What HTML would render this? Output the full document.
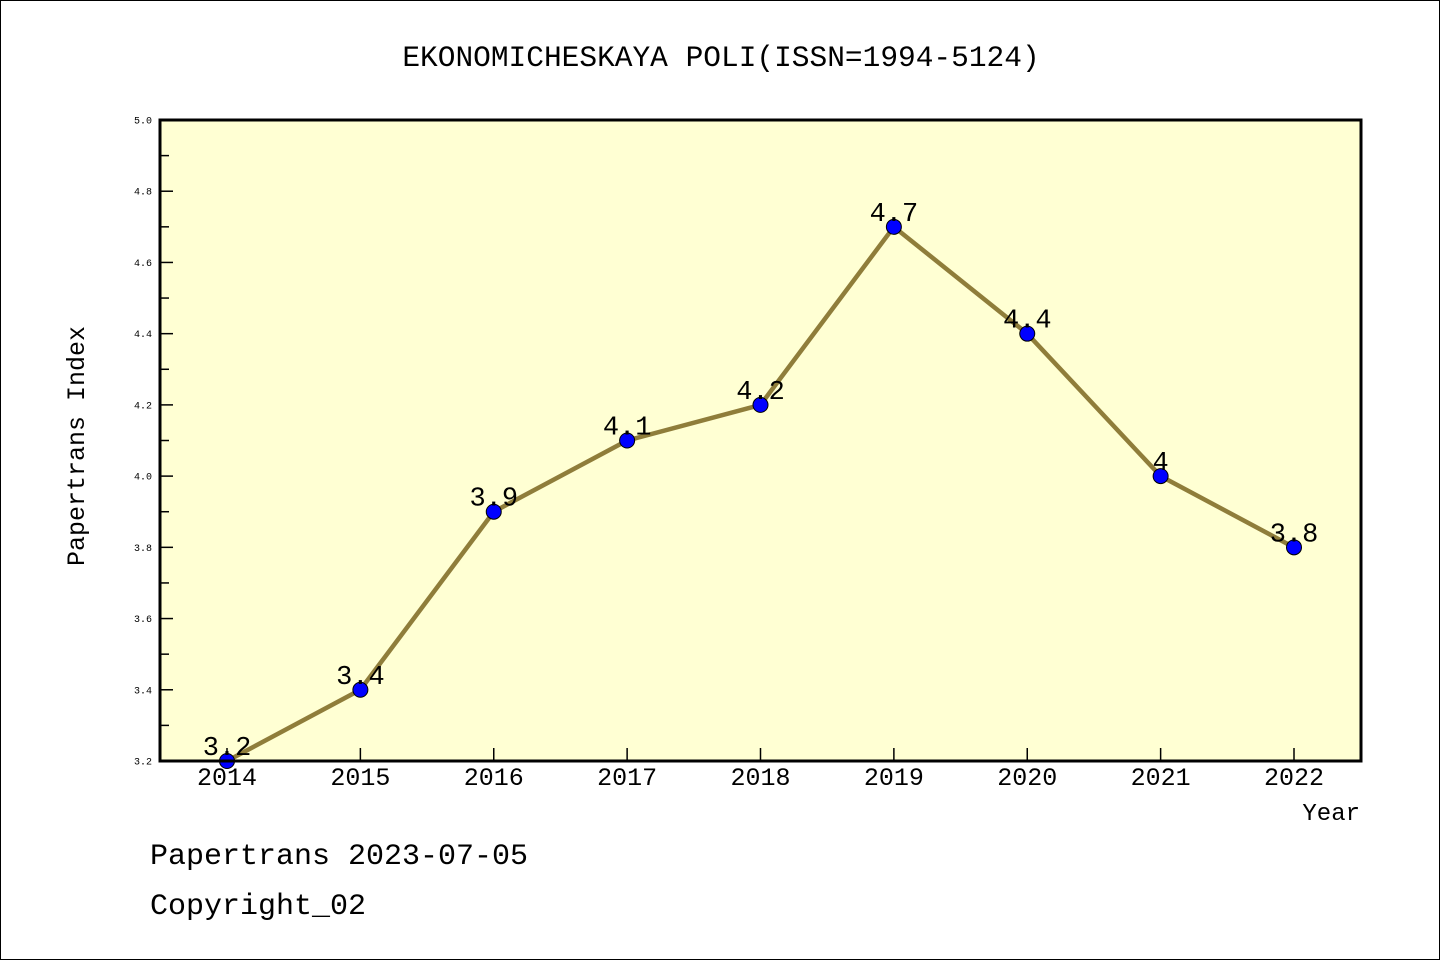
<!DOCTYPE html>
<html><head><meta charset="utf-8"><style>
html,body{margin:0;padding:0;background:#fff;}
svg{display:block;font-family:"Liberation Mono","DejaVu Sans Mono",monospace;}
</style></head><body>
<svg id="chart" width="1440" height="960" viewBox="0 0 1440 960" xmlns="http://www.w3.org/2000/svg">
<rect x="0.5" y="0.5" width="1439" height="959" fill="#fff" stroke="#000" stroke-width="1"/>
<text x="721" y="66" font-size="29.5" text-anchor="middle">EKONOMICHESKAYA POLI(ISSN=1994-5124)</text>
<rect x="160" y="120" width="1201" height="641" fill="#ffffd3"/>
<g id="ticks"></g>
<g id="marks"></g>
<rect x="160" y="120" width="1201" height="641" fill="none" stroke="#000" stroke-width="3"/>
<text transform="translate(84,446) rotate(-90)" font-size="25" text-anchor="middle">Papertrans Index</text>
<text x="1360" y="820" font-size="24" text-anchor="end">Year</text>
<text x="150" y="864" font-size="30">Papertrans 2023-07-05</text>
<text x="150" y="914" font-size="30">Copyright_02</text>
</svg>
<script>
const years = ["2014","2015","2016","2017","2018","2019","2020","2021","2022"];
const values = [3.2,3.4,3.9,4.1,4.2,4.7,4.4,4.0,3.8];
const valueLabels = ["3.2","3.4","3.9","4.1","4.2","4.7","4.4","4","3.8"];
const yTicks = ["3.2","3.4","3.6","3.8","4.0","4.2","4.4","4.6","4.8","5.0"];
const yMin=3.2,yMax=5.0;
const NS="http://www.w3.org/2000/svg";
function x(i){return 227+i*(1294-227)/(years.length-1);}
function y(v){return 761-(v-yMin)/(yMax-yMin)*641;}
function mk(tag,attrs,parent){const e=document.createElementNS(NS,tag);for(const k in attrs)e.setAttribute(k,attrs[k]);parent.appendChild(e);return e;}
const tg=document.getElementById('ticks'), mg=document.getElementById('marks');
yTicks.forEach((t,i)=>{const v=parseFloat(t),yy=y(v);
 const l=mk('line',{x1:160,x2:173,y1:yy,y2:yy,stroke:'#000','stroke-width':1.5},tg);
 
 
 const tx=mk('text',{x:152,y:yy+3.5,'font-size':10,'text-anchor':'end'},tg);tx.textContent=t;
 
 
 if(i<yTicks.length-1){const ym=y(v+0.1);
  const m=mk('line',{x1:160,x2:169,y1:ym,y2:ym,stroke:'#000','stroke-width':1.5},tg);
  
  }
});
years.forEach((yr,i)=>{const xx=x(i);
 const l=mk('line',{x1:xx,x2:xx,y1:761,y2:748,stroke:'#000','stroke-width':1.5},tg);
 
 
 const tx=mk('text',{x:xx,y:785,'font-size':25,'text-anchor':'middle'},tg);tx.textContent=yr;
 
 
});
const pl=mk('polyline',{points:values.map((v,i)=>x(i)+','+y(v)).join(' '),fill:'none',stroke:'#8f7d3a','stroke-width':4.5,'stroke-linejoin':'round'},mg);


values.forEach((v,i)=>{
 const c=mk('circle',{cx:x(i),cy:y(v),r:7.5,fill:'#0000ff',stroke:'#000','stroke-width':1},mg);
 
 
 const t=mk('text',{x:x(i),y:y(v)-6,'font-size':27,'text-anchor':'middle'},mg);t.textContent=valueLabels[i];
 
 
});
</script>
</body></html>
